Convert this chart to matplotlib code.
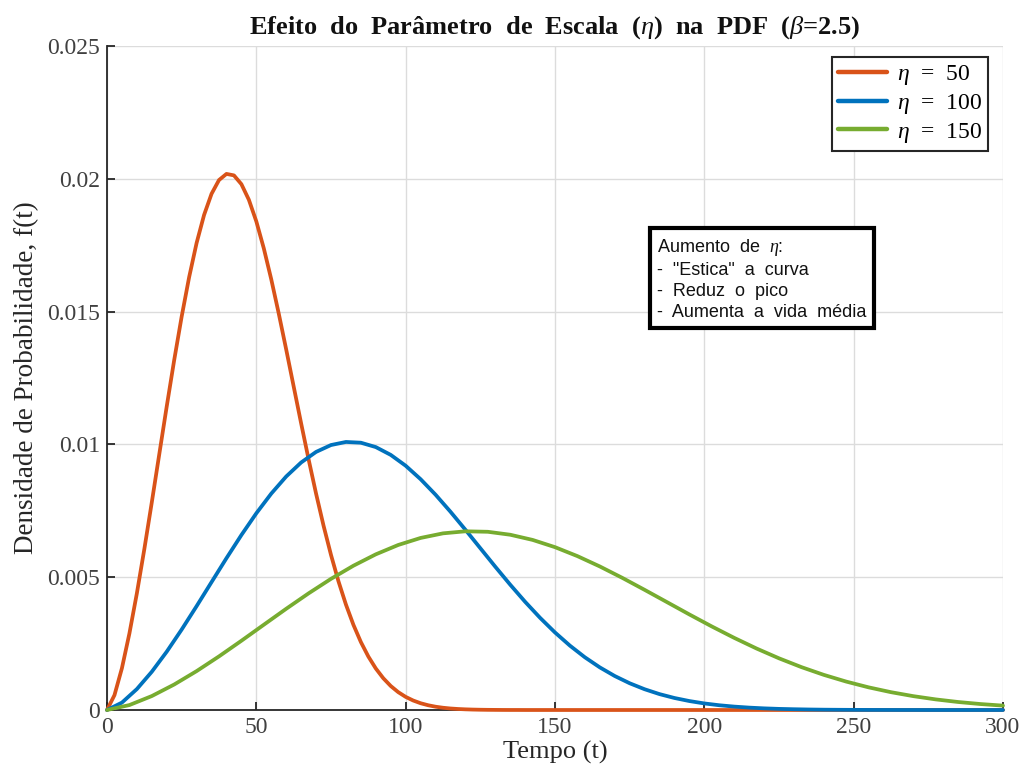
import numpy as np
import matplotlib.pyplot as plt

# ================================
# Dados (f(t) em unidades de 1e-4)
# ================================
t_eta50 = np.append(np.arange(0, 150.1, 2.5), 300)
pdf_eta50 = [0, 5.59, 15.76, 28.80, 43.93, 60.58, 78.21, 96.29, 114.32, 131.76,
             148.13, 162.96, 175.83, 186.38, 194.34, 199.53, 201.84, 201.29, 197.98, 192.11,
             183.94, 173.81, 162.14, 149.30, 135.73, 121.82, 107.92, 94.38, 81.47, 69.42,
             58.39, 48.46, 39.70, 32.09, 25.59, 20.14, 15.63, 11.97, 9.04, 6.73,
             4.94, 3.58, 2.55, 1.80, 1.24, 0.85, 0.57, 0.38, 0.25, 0.16,
             0.10, 0.06, 0.04, 0.02, 0.01, 0.01, 0, 0, 0, 0,
             0, 0]

t_eta100 = np.arange(0, 300.1, 5)
pdf_eta100 = [0, 2.79, 7.88, 14.40, 21.96, 30.29, 39.10, 48.15, 57.16, 65.88,
              74.07, 81.48, 87.92, 93.19, 97.17, 99.76, 100.92, 100.64, 98.99, 96.05,
              91.97, 86.90, 81.07, 74.65, 67.87, 60.91, 53.96, 47.19, 40.73, 34.71,
              29.19, 24.23, 19.85, 16.05, 12.80, 10.07, 7.82, 5.98, 4.52, 3.37,
              2.47, 1.79, 1.28, 0.90, 0.62, 0.42, 0.29, 0.19, 0.12, 0.08,
              0.05, 0.03, 0.02, 0.01, 0.01, 0, 0, 0, 0, 0,
              0]

t_eta150 = np.arange(0, 300.1, 7.5)
pdf_eta150 = [0, 1.86, 5.25, 9.60, 14.64, 20.19, 26.07, 32.10, 38.11, 43.92,
              49.38, 54.32, 58.61, 62.13, 64.78, 66.51, 67.28, 67.10, 65.99, 64.04,
              61.31, 57.94, 54.05, 49.77, 45.24, 40.61, 35.97, 31.46, 27.16, 23.14,
              19.46, 16.15, 13.23, 10.70, 8.53, 6.71, 5.21, 3.99, 3.01, 2.24,
              1.65]

labels = [r'$\eta$  =  50', r'$\eta$  =  100', r'$\eta$  =  150']
colors = ['#D95319', '#0072BD', '#77AC30']
yticks = [0, 0.005, 0.01, 0.015, 0.02, 0.025]
ytick_labels = ['0', '0.005', '0.01', '0.015', '0.02', '0.025']

plt.rcParams['font.family'] = 'Liberation Serif'
plt.rcParams['mathtext.fontset'] = 'custom'
plt.rcParams['mathtext.rm'] = 'Liberation Serif'
plt.rcParams['mathtext.it'] = 'Liberation Serif:italic'
plt.rcParams['mathtext.bf'] = 'Liberation Serif:bold'

fig = plt.figure(figsize=(10.25, 7.81), dpi=100)
ax = fig.add_axes([107 / 1025, 1 - 710 / 781, (1003 - 107) / 1025, (710 - 46) / 781])

series = [(t_eta50, pdf_eta50), (t_eta100, pdf_eta100), (t_eta150, pdf_eta150)]
for (t, p), c, lab in zip(series, colors, labels):
    ax.plot(t, np.array(p) * 1e-4, color=c, linewidth=2.7, label=lab,
            solid_capstyle='round', solid_joinstyle='round', clip_on=False, zorder=3)

ax.set_xlim(0, 300)
ax.set_ylim(0, 0.025)
ax.set_xticks([0, 50, 100, 150, 200, 250, 300])
ax.set_yticks(yticks)
ax.set_yticklabels(ytick_labels)
ax.grid(True, color='#dcdcdc', linewidth=1.0)
ax.set_axisbelow(True)

for s in ['top', 'right']:
    ax.spines[s].set_visible(False)
for s in ['left', 'bottom']:
    ax.spines[s].set_color('#262626')
    ax.spines[s].set_linewidth(1.3)
ax.tick_params(direction='in', length=6, width=1.3, color='#262626',
               labelsize=17, labelcolor='#404040', pad=5)

ax.set_xlabel('Tempo (t)', fontsize=19, color='#262626', labelpad=2)
ax.set_ylabel('Densidade de Probabilidade, f(t)', fontsize=19.5, color='#262626', labelpad=6)
ax.set_title(r'Efeito  do  Parâmetro  de  Escala  ($\eta$)  na  PDF  ($\beta$=2.5)',
             fontsize=19, fontweight='bold', color='#111111', pad=9)

leg = ax.legend(loc='upper right', bbox_to_anchor=(0.983, 0.983), borderaxespad=0,
                fontsize=17, handlelength=2.1, handletextpad=0.4, borderpad=0.25,
                labelspacing=0.2, fancybox=False, framealpha=1)
leg.get_frame().set_edgecolor('#262626')
leg.get_frame().set_linewidth(1.5)
for line in leg.get_lines():
    line.set_linewidth(3.2)

ax.text(0.614, 0.712,
        'Aumento  de  $\\eta$:\n-  "Estica"  a  curva\n-  Reduz  o  pico\n-  Aumenta  a  vida  média',
        transform=ax.transAxes, fontsize=13, family='Liberation Sans', color='#111111',
        va='top', ha='left', linespacing=1.3,
        bbox=dict(boxstyle='square,pad=0.4', facecolor='white', edgecolor='black', linewidth=3))

plt.savefig('out.png', dpi=100)
